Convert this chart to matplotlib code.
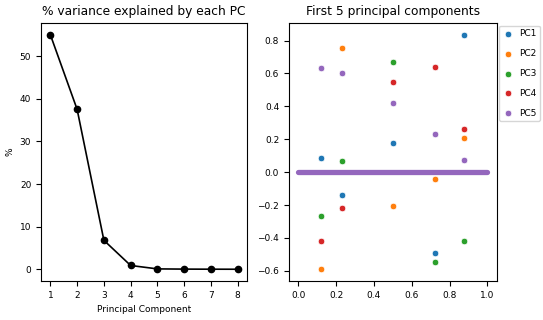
import matplotlib
matplotlib.use('Agg')
import matplotlib.pyplot as plt

# Erklaerte Varianz pro Hauptkomponente
pc_nummern = [1, 2, 3, 4, 5, 6, 7, 8]
varianz = [55.0, 37.5, 6.8, 0.9, 0.1, 0.05, 0.03, 0.02]

# Ladungen der ersten 5 Hauptkomponenten
x_pos = [0.12, 0.229, 0.5, 0.721, 0.877]
pc1 = [0.085, -0.14, 0.175, -0.49, 0.835]
pc2 = [-0.59, 0.755, -0.205, -0.04, 0.205]
pc3 = [-0.265, 0.065, 0.67, -0.545, -0.42]
pc4 = [-0.42, -0.22, 0.545, 0.64, 0.265]
pc5 = [0.635, 0.60, 0.42, 0.23, 0.075]
namen = ['PC1', 'PC2', 'PC3', 'PC4', 'PC5']
farben = ['#1f77b4', '#ff7f0e', '#2ca02c', '#d62728', '#9467bd']

# Nulllinie (dichte Punkte bei y = 0)
null_x = [0.0, 1.0]
null_y = [0.0, 0.0]

fig = plt.figure(figsize=(5.43, 3.2), dpi=100)

# Links: Varianz
ax1 = fig.add_axes([0.0755, 0.122, 0.3795, 0.806])
ax1.plot(pc_nummern, varianz, 'o-', color='black', markersize=4.5, linewidth=1.2)
ax1.set_title('% variance explained by each PC', fontsize=8.8)
ax1.set_xlabel('Principal Component', fontsize=6.5)
ax1.set_ylabel('%', fontsize=6.5)
ax1.set_xticks(pc_nummern)
ax1.set_yticks([0, 10, 20, 30, 40, 50])
ax1.tick_params(labelsize=6.5)

# Rechts: Komponenten
ax2 = fig.add_axes([0.532, 0.122, 0.383, 0.806])
for werte, name, farbe in zip([pc1, pc2, pc3, pc4, pc5], namen, farben):
    ax2.scatter(x_pos, werte, s=22, color=farbe, edgecolors='white',
                linewidths=0.5, label=name, zorder=3)
ax2.plot(null_x, null_y, color=farben[4], linewidth=3.8,
         solid_capstyle='round', zorder=2)
ax2.set_title('First 5 principal components', fontsize=8.8)
ax2.set_yticks([-0.6, -0.4, -0.2, 0.0, 0.2, 0.4, 0.6, 0.8])
ax2.set_xticks([0.0, 0.2, 0.4, 0.6, 0.8, 1.0])
ax2.tick_params(labelsize=6.5)
ax2.legend(loc='upper left', bbox_to_anchor=(1.01, 0.99), fontsize=6.5,
           borderaxespad=0.0, handlelength=1.2, handletextpad=0.6,
           labelspacing=1.2)

fig.savefig('out.png', dpi=100)
